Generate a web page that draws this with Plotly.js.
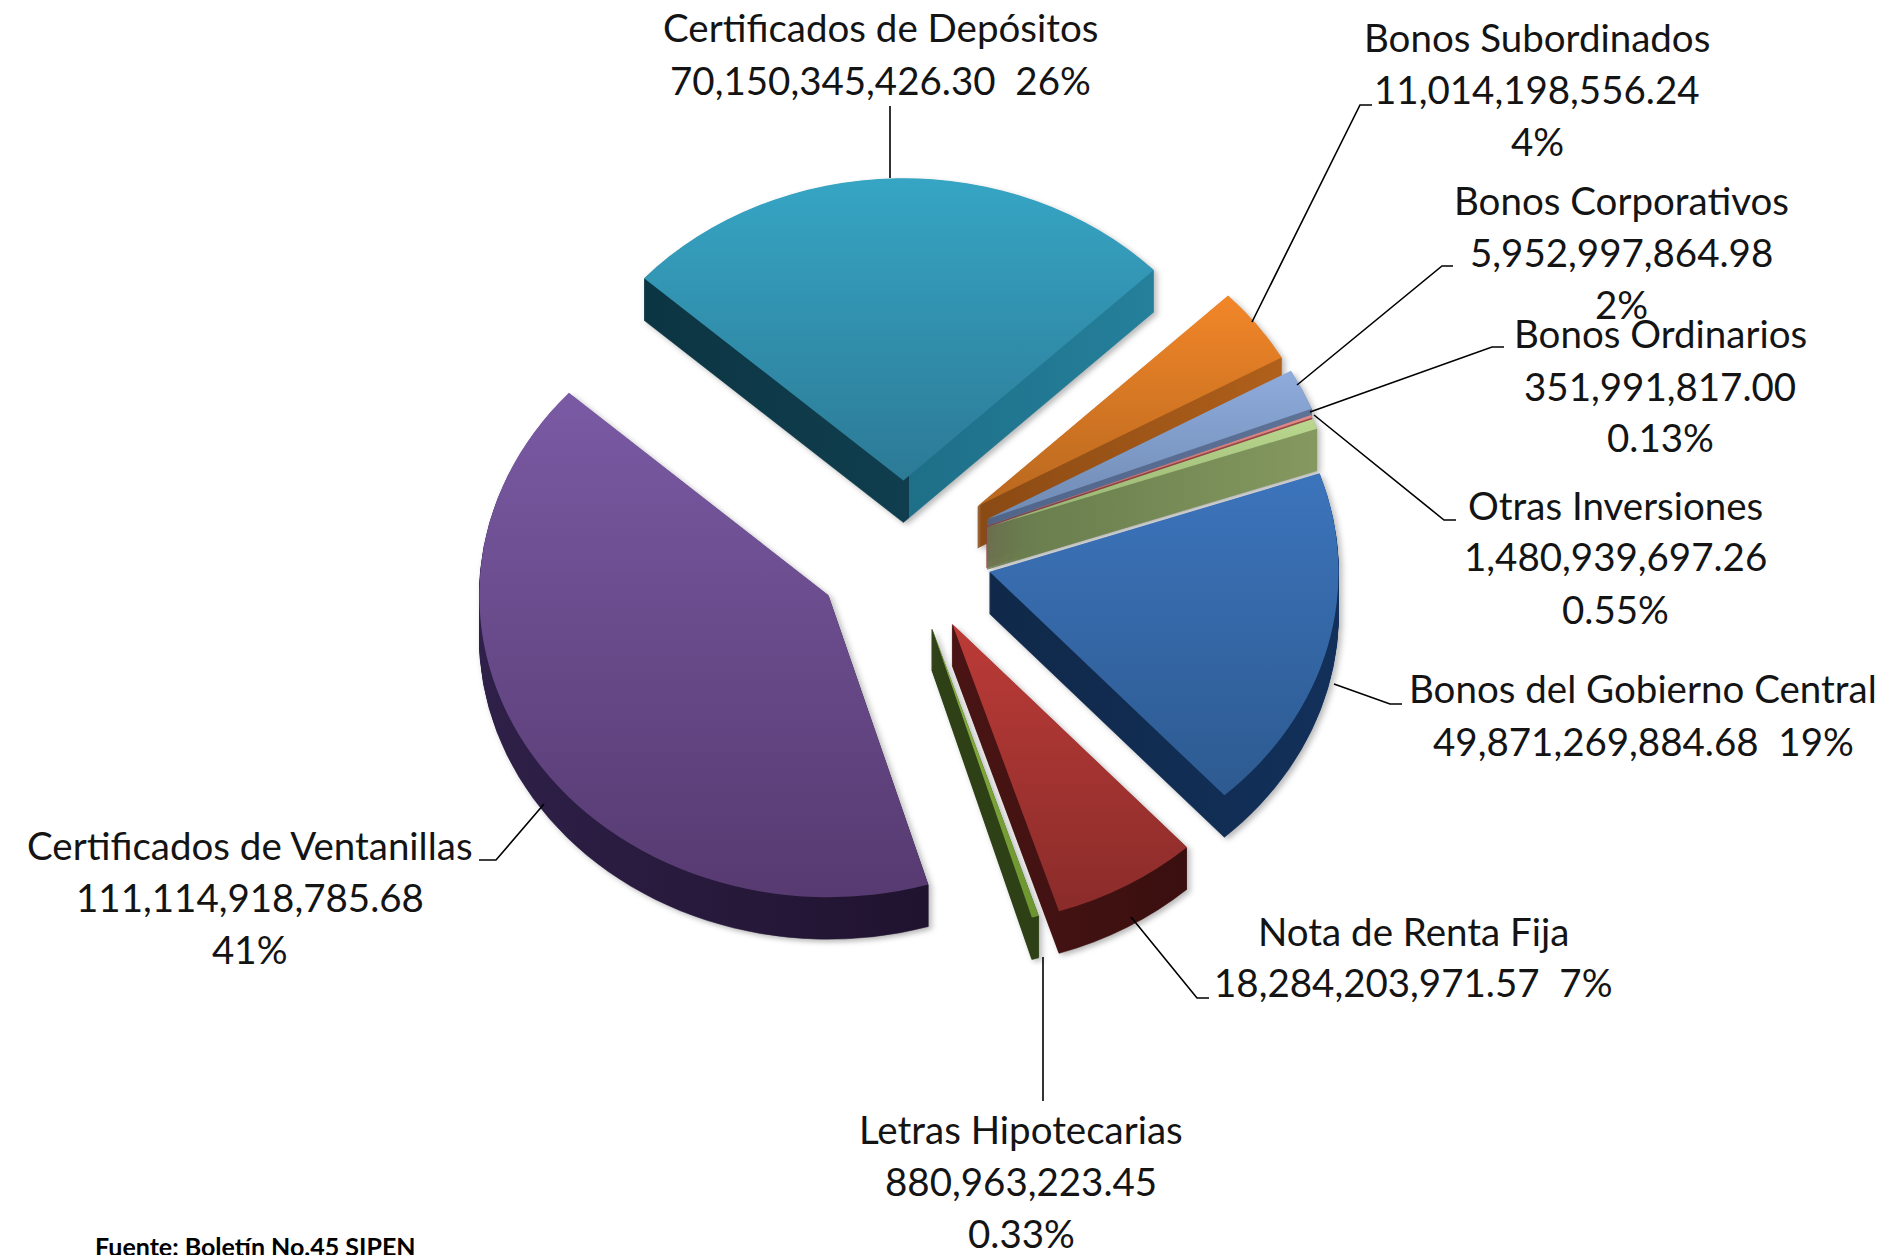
<!DOCTYPE html>
<html>
<head>
<meta charset="utf-8">
<script src="https://cdn.plot.ly/plotly-3.0.1.min.js"></script>
<style>html,body{margin:0;padding:0;background:#fff}#chart{width:1887px;height:1255px}</style>
</head>
<body>
<div id="chart"></div>
<script>
// Data
const categories = ["Certificados de Depósitos","Bonos Subordinados","Bonos Corporativos","Bonos Ordinarios","Otras Inversiones","Bonos del Gobierno Central","Nota de Renta Fija","Letras Hipotecarias","Certificados de Ventanillas"];
const values = [70150345426.30,11014198556.24,5952997864.98,351991817.00,1480939697.26,49871269884.68,18284203971.57,880963223.45,111114918785.68];
const pulls = [0.24,0.26,0.26,0.25,0.25,0.25,0.27,0.26,0.26];
const topLight = ["#36A5C4","#F28628","#8EABDC","#E08A88","#BAD88E","#3C74BC","#BC3B37","#8DB440","#7A5AA4"];
const topDark  = ["#2C7A96","#B8681F","#6F8AB2","#B06060","#94B070","#2D5A90","#8A2C2A","#6C9430","#563A70"];
const sideLeft = ["#0C3543","#8A4A14","#50658A","#8A3E3E","#667A4C","#10294A","#4A1414","#2E4016","#2E2048"];
const sideRight= ["#25809B","#B0601A","#5E7296","#9A4848","#84985F","#12305A","#3A0F0F","#2E4016","#20132F"];
const labelLines = [
  ["Certificados de Depósitos","70,150,345,426.30  26%"],
  ["Bonos Subordinados","11,014,198,556.24","4%"],
  ["Bonos Corporativos","5,952,997,864.98","2%"],
  ["Bonos Ordinarios","351,991,817.00","0.13%"],
  ["Otras Inversiones","1,480,939,697.26","0.55%"],
  ["Bonos del Gobierno Central","49,871,269,884.68  19%"],
  ["Nota de Renta Fija","18,284,203,971.57  7%"],
  ["Letras Hipotecarias","880,963,223.45","0.33%"],
  ["Certificados de Ventanillas","111,114,918,785.68","41%"]
];
const sourceNote = "Fuente: Boletín No.45 SIPEN";

// Layout geometry
const W = 1887, H = 1255;
const cx = 905, cy = 553, radius = 349, maxPull = 0.27, squash = 0.866, depth = 42, layers = 42;
const startAngle = -48;
const labelX = [880,1537,1621,1660,1615,1643,1413,1021,250];
const labelY = [[27,80],[37,89,141],[200,252,304],[333,386,437],[505,556,609],[688,741],[931,982],[1129,1181,1233],[845,897,949]];
const leaders = [
  [[890,106],[890,178]],
  [[1372,105],[1360,105],[1252,322]],
  [[1453,266],[1442,266],[1297,385]],
  [[1504,347],[1492,347],[1310,412]],
  [[1456,520],[1444,520],[1314,415]],
  [[1402,704],[1390,704],[1334,684]],
  [[1209,998],[1197,998],[1131,917]],
  [[1043,1101],[1043,957]],
  [[479,860],[496,860],[544,804]]
];

const half = radius * (1 + maxPull);
function pieTrace(shiftPx) {
  const ycen = cy + shiftPx;
  return {
    type: 'pie', sort: false, direction: 'clockwise', rotation: startAngle,
    labels: categories, values: values, pull: pulls,
    textinfo: 'none', hoverinfo: 'skip', showlegend: false,
    marker: { colors: topLight, line: { width: 0 } },
    domain: { x: [(cx - half) / W, (cx + half) / W], y: [1 - (ycen + half) / H, 1 - (ycen - half) / H] }
  };
}
const traces = [];
for (let k = layers; k >= 1; k--) traces.push(pieTrace((k / layers) * depth / squash));
traces.push(pieTrace(0));

const annotations = [];
labelLines.forEach((lines, i) => lines.forEach((t, j) => annotations.push({
  text: t, xref: 'paper', yref: 'paper', x: labelX[i] / W, y: 1 - labelY[i][j] / H,
  xanchor: 'center', yanchor: 'middle', showarrow: false,
  font: { family: 'Lato, sans-serif', size: 38.5, color: '#141414' }
})));
annotations.push({
  text: '<b>' + sourceNote + '</b>', xref: 'paper', yref: 'paper', x: 93 / W, y: 1 - 1246 / H,
  xanchor: 'left', yanchor: 'middle', showarrow: false,
  font: { family: 'Lato, sans-serif', size: 25, color: '#000' }
});

const shapes = leaders.map(pts => ({
  type: 'path', xref: 'paper', yref: 'paper',
  path: pts.map((p, i) => (i ? 'L' : 'M') + (p[0] / W) + ',' + (1 - p[1] / H)).join(' '),
  line: { color: '#000', width: 1.6 }, layer: 'above'
}));

Plotly.newPlot('chart', traces, {
  width: W, height: H, margin: { l: 0, r: 0, t: 0, b: 0 },
  paper_bgcolor: '#fff', plot_bgcolor: '#fff', showlegend: false,
  annotations: annotations, shapes: shapes
}, { staticPlot: true, displayModeBar: false }).then(gd => {
  // Shading: the library draws the slices, the gradients only recolour them.
  const ns = 'http://www.w3.org/2000/svg';
  const svg = gd.querySelector('svg.main-svg');
  const defs = document.createElementNS(ns, 'defs');
  svg.insertBefore(defs, svg.firstChild);
  function grad(id, stops, vertical) {
    const g = document.createElementNS(ns, 'linearGradient');
    g.setAttribute('id', id);
    g.setAttribute('x1', '0'); g.setAttribute('y1', '0');
    g.setAttribute('x2', vertical ? '0' : '1'); g.setAttribute('y2', vertical ? '1' : '0');
    stops.forEach(s => {
      const st = document.createElementNS(ns, 'stop');
      st.setAttribute('offset', s[0]); st.setAttribute('stop-color', s[1]);
      g.appendChild(st);
    });
    defs.appendChild(g);
  }
  categories.forEach((_, i) => {
    grad('top' + i, [[0, topLight[i]], [1, topDark[i]]], true);
    // The first slice shows two side walls that meet at its tip, so its shade breaks there.
    const sideStops = i === 0
      ? [[0, sideLeft[i]], [0.52, '#103E4E'], [0.52, '#1E6F88'], [1, sideRight[i]]]
      : [[0, sideLeft[i]], [1, sideRight[i]]];
    grad('side' + i, sideStops, false);
  });
  const groups = gd.querySelectorAll('.pielayer .trace');
  groups.forEach((tr, t) => {
    const front = t === groups.length - 1;
    tr.querySelectorAll('.slice path.surface').forEach((p, i) => {
      const paint = 'url(#' + (front ? 'top' : 'side') + i + ')';
      p.style.fill = paint;
      p.style.stroke = front ? 'none' : paint;
      p.style.strokeWidth = front ? '0' : '0.6px';
    });
  });
  const layer = gd.querySelector('.pielayer');
  layer.setAttribute('transform', `translate(0,${cy}) scale(1,${squash}) translate(0,${-cy})`);
  layer.style.filter = 'drop-shadow(3px 3px 3px rgba(0,0,0,0.28))';
});
</script>
</body>
</html>
